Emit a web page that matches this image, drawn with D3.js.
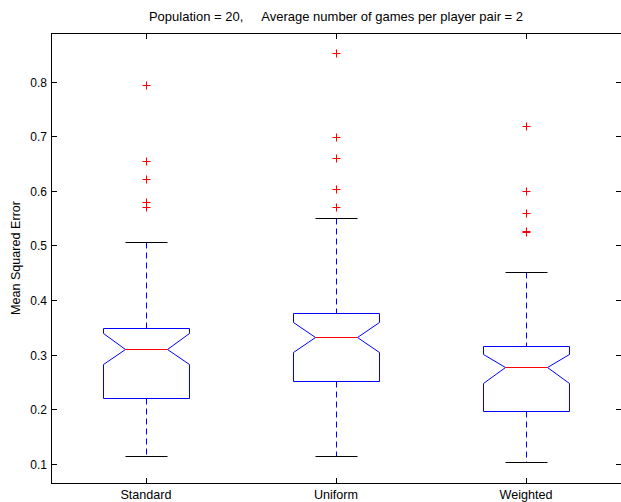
<!DOCTYPE html>
<html>
<head>
  <title>Boxplot</title>
  <script src="https://d3js.org/d3.v7.min.js"></script>
  <style>
    body { margin: 0; background: #fff; }
    text { font-family: "Liberation Sans", Arial, Helvetica, sans-serif; font-size: 12px; fill: #000; }
  </style>
</head>
<body>
<script>
// data
var categories = ["Standard", "Uniform", "Weighted"];
var lowerWhisker = [0.115, 0.115, 0.103];
var q1 = [0.221, 0.251, 0.196];
var notchLow = [0.2835, 0.304, 0.249];
var median = [0.311, 0.332, 0.277];
var notchHigh = [0.340, 0.359, 0.302];
var q3 = [0.349, 0.376, 0.315];
var upperWhisker = [0.506, 0.550, 0.451];
var outliers = [
  [0.794, 0.654, 0.622, 0.580, 0.571],
  [0.852, 0.699, 0.660, 0.603, 0.571],
  [0.719, 0.599, 0.560, 0.527, 0.524]
];
var yTicks = [0.1, 0.2, 0.3, 0.4, 0.5, 0.6, 0.7, 0.8];
var title = "Population = 20,\u00a0\u00a0\u00a0\u00a0\u00a0Average number of games per player pair = 2";

var width = 621, height = 502;
// note: "top" is taken by window.top, so use plot* names
var plotLeft = 51, plotRight = 621, plotTop = 33, plotBottom = 483;

var svg = d3.select("body").append("svg")
  .attr("width", width).attr("height", height);

var x = d3.scaleLinear().domain([0.5, 3.5]).range([plotLeft, plotRight]);
var y = d3.scaleLinear().domain([0.065, 0.889]).range([plotBottom, plotTop]);

var boxHalf = 0.226, notchHalf = 0.113, capHalf = 0.11;

// snap to pixel centres so 1px lines stay sharp
function px(v) { return Math.round(v) + 0.5; }

// frame
svg.append("rect")
  .attr("x", plotLeft + 0.5).attr("y", plotTop + 0.5)
  .attr("width", plotRight - plotLeft).attr("height", plotBottom - plotTop)
  .attr("fill", "none").attr("stroke", "#000").attr("stroke-width", 1);

// y ticks on both sides, pointing in
yTicks.forEach(function(t) {
  var yy = px(y(t));
  svg.append("line").attr("x1", plotLeft).attr("x2", plotLeft + 6).attr("y1", yy).attr("y2", yy).attr("stroke", "#000");
  svg.append("line").attr("x1", plotRight - 5).attr("x2", plotRight).attr("y1", yy).attr("y2", yy).attr("stroke", "#000");
  svg.append("text").attr("x", plotLeft - 4).attr("y", yy + 4)
    .attr("text-anchor", "end").text(t.toFixed(1));
});

// x ticks top and bottom
categories.forEach(function(c, i) {
  var xx = px(x(i + 1));
  svg.append("line").attr("x1", xx).attr("x2", xx).attr("y1", plotBottom).attr("y2", plotBottom - 5).attr("stroke", "#000");
  svg.append("line").attr("x1", xx).attr("x2", xx).attr("y1", plotTop + 1).attr("y2", plotTop + 6).attr("stroke", "#000");
  svg.append("text").attr("x", x(i + 1)).attr("y", 499)
    .attr("text-anchor", "middle").style("font-size", "12.6px").text(c);
});

// boxes
var g = svg.selectAll("g.box").data(categories).enter().append("g").attr("class", "box");

g.each(function(c, i) {
  var sel = d3.select(this);
  var cx = px(x(i + 1));
  var xl = px(x(i + 1 - boxHalf)), xr = px(x(i + 1 + boxHalf));
  var nl = px(x(i + 1 - notchHalf)), nr = px(x(i + 1 + notchHalf));

  // whiskers
  sel.append("line").attr("x1", cx).attr("x2", cx)
    .attr("y1", px(y(upperWhisker[i]))).attr("y2", px(y(q3[i])))
    .attr("stroke", "#0000ff").attr("stroke-dasharray", "6,4");
  sel.append("line").attr("x1", cx).attr("x2", cx)
    .attr("y1", px(y(q1[i]))).attr("y2", px(y(lowerWhisker[i])))
    .attr("stroke", "#0000ff").attr("stroke-dasharray", "6,4");

  // caps
  [upperWhisker[i], lowerWhisker[i]].forEach(function(v) {
    sel.append("line")
      .attr("x1", px(x(i + 1 - capHalf))).attr("x2", px(x(i + 1 + capHalf)))
      .attr("y1", px(y(v))).attr("y2", px(y(v)))
      .attr("stroke", "#000");
  });

  // notched box
  var pts = [
    [xl, px(y(q3[i]))], [xr, px(y(q3[i]))],
    [xr, px(y(notchHigh[i]))], [nr, px(y(median[i]))], [xr, px(y(notchLow[i]))],
    [xr, px(y(q1[i]))], [xl, px(y(q1[i]))],
    [xl, px(y(notchLow[i]))], [nl, px(y(median[i]))], [xl, px(y(notchHigh[i]))]
  ];
  sel.append("path")
    .attr("d", d3.line()(pts) + "Z")
    .attr("fill", "none").attr("stroke", "#0000ff");

  // median
  sel.append("line").attr("x1", nl).attr("x2", nr)
    .attr("y1", px(y(median[i]))).attr("y2", px(y(median[i])))
    .attr("stroke", "#ff0000");

  // outliers as red plus signs
  outliers[i].forEach(function(v) {
    var yy = px(y(v));
    sel.append("path")
      .attr("d", "M" + (cx - 4) + "," + yy + "H" + (cx + 4) + "M" + cx + "," + (yy - 4) + "V" + (yy + 4))
      .attr("stroke", "#ff0000").attr("fill", "none");
  });
});

// title and y label
svg.append("text").attr("x", (plotLeft + plotRight) / 2).attr("y", 21)
  .attr("text-anchor", "middle").style("font-size", "13px").text(title);

svg.append("text")
  .attr("transform", "translate(20," + (plotTop + plotBottom) / 2 + ") rotate(-90)")
  .attr("text-anchor", "middle").style("font-size", "12.6px").text("Mean Squared Error");
</script>
</body>
</html>
